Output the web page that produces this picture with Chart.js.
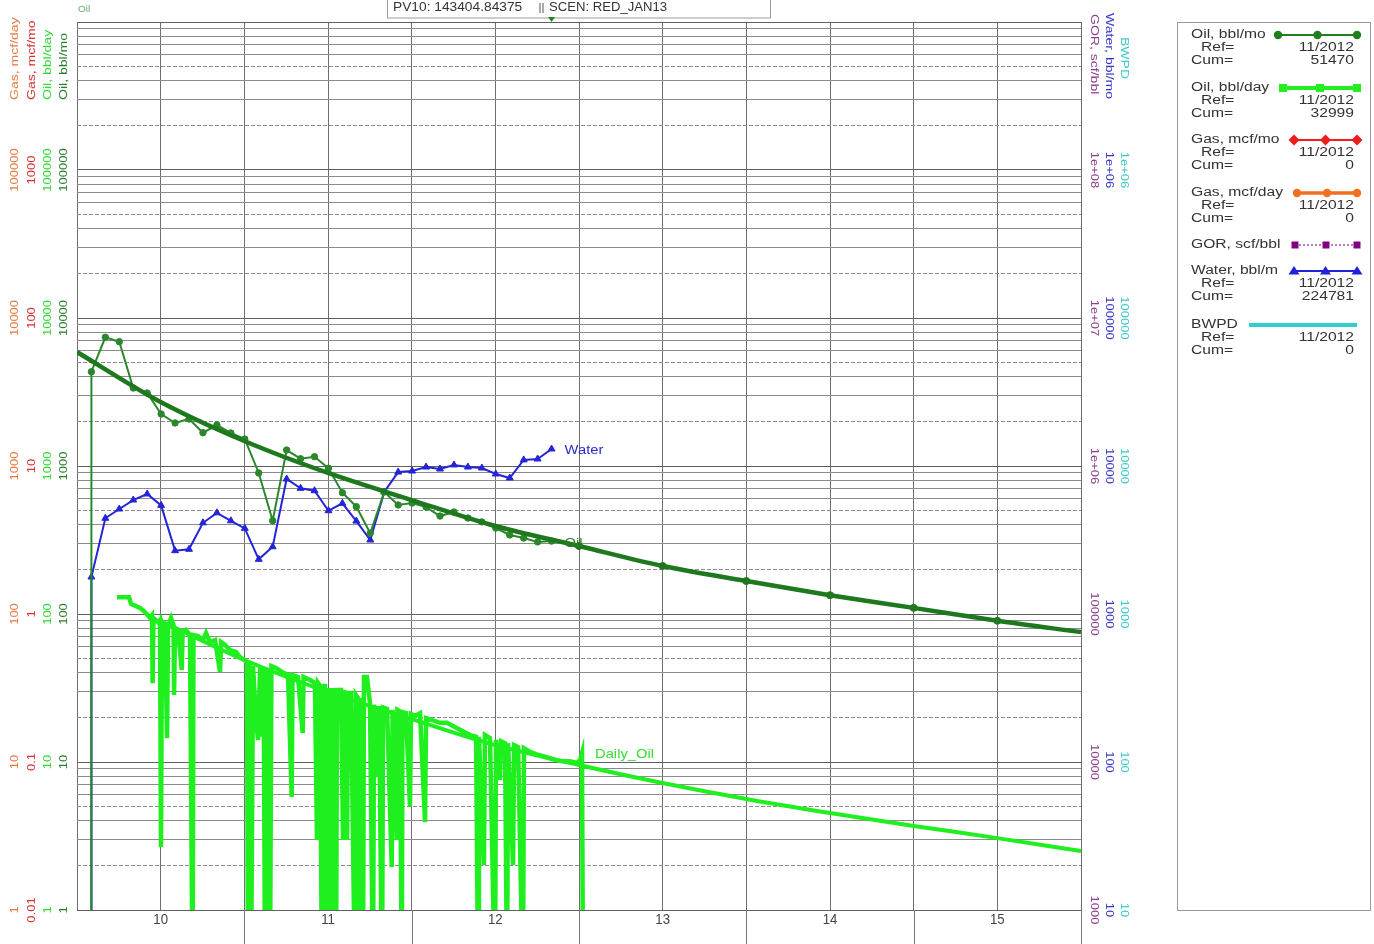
<!DOCTYPE html>
<html><head><meta charset="utf-8">
<script src="https://cdn.jsdelivr.net/npm/chart.js@4/dist/chart.umd.min.js"></script>
<style>html,body{margin:0;padding:0;background:#fff;}canvas{display:block;}</style>
</head><body>
<canvas id="c" width="1374" height="944"></canvas>
<script>
// ---------------- DATA ----------------
const monthlyDates = ['2010-02','2010-03','2010-04','2010-05','2010-06','2010-07','2010-08','2010-09','2010-10','2010-11','2010-12','2011-01','2011-02','2011-03','2011-04','2011-05','2011-06','2011-07','2011-08','2011-09','2011-10','2011-11','2011-12','2012-01','2012-02','2012-03','2012-04','2012-05','2012-06','2012-07','2012-08','2012-09','2012-10','2012-11'];
const monthlyOil = [4336,7410,6918,3365,3113,2245,1953,2078,1679,1892,1671,1521,897,427,1282,1120,1156,965,660,531,352,667,545,562,528,459,489,445,419,381,342,326,307,311];
const monthlyWater = [1778,4436,5120,5888,6471,5420,2679,2737,4132,4827,4266,3790,2342,2846,8166,7066,6810,4985,5594,4246,3162,6668,9097,9245,9839,9542,10165,9839,9690,8830,8298,10995,11150,13030];
const startupDate = '2010-02';
const startupOil = 0;
const startupWater = 0;

const oilFitYears = [2010,2010.5,2011,2011.5,2012,2012.5,2013,2013.5,2014,2014.5,2015,2015.5,2016];
const oilFitMonthly = [5891,2707,1475,897,589,393,288,211,167,134,110,90,75.5];
const dailyFitYears = [2010.5,2011,2011.5,2012,2012.5,2013,2013.5,2014,2014.5,2015,2015.5,2016];
const dailyFitValues = [89.7,48.9,29.7,19.5,13.0,9.55,7.21,5.62,4.52,3.70,3.06,2.50];

const dailyYears = [2010.239,2010.311,2010.323,2010.376,2010.406,2010.436,2010.448,2010.452,2010.457,2010.484,
2010.496,2010.502,2010.508,2010.526,2010.538,2010.544,2010.562,2010.577,2010.580,2010.586,
2010.604,2010.626,2010.631,2010.651,2010.675,2010.691,2010.696,2010.723,2010.753,2010.771,
2010.795,2010.825,2010.855,2010.861,2010.885,2010.914,2010.950,2010.974,2010.998,2011.016,
2011.022,2011.031,2011.040,2011.052,2011.070,2011.082,2011.094,2011.106,2011.115,2011.124,
2011.130,2011.139,2011.144,2011.153,2011.162,2011.189,2011.225,2011.261,2011.283,2011.288,
2011.321,2011.349,2011.354,2011.393,2011.422,2011.434,2011.440,2011.452,2011.464,2011.470,
2011.482,2011.488,2011.494,2011.506,2011.512,2011.530,2011.536,2011.548,2011.554,2011.578,
2011.590,2011.596,2011.614,2011.620,2011.638,2011.661,2011.667,2011.679,2011.691,2011.697,
2011.709,2011.715,2011.733,2011.751,2011.769,2011.775,2011.799,2011.805,2011.823,2011.829,
2011.853,2011.881,2011.886,2011.911,2011.915,2011.930,2011.941,2011.945,2011.966,2011.990,
2011.996,2012.020,2012.050,2012.080,2012.086,2012.122,2012.169,2012.211,2012.247,2012.289,
2012.325,2012.349,2012.385,2012.397,2012.402,2012.432,2012.438,2012.468,2012.498,2012.504,
2012.528,2012.534,2012.558,2012.570,2012.576,2012.606,2012.612,2012.636,2012.665,2012.671,
2012.707,2012.743,2012.779,2012.827,2012.863,2012.899,2012.946,2012.988,2013.006,2013.018,
2013.024];
const dailyOil = [130,130,117,110,103,94,98,34,94,88,
91,2.66,88,80,14.5,83,94,84,28.4,80,
78,41.8,75.5,78,72,0,72,71,66.7,74.4,
64.7,66.7,40.6,64.7,61.8,57.1,55.4,51.2,48.9,47.4,
0,45.9,0,44.5,19.2,14.1,43.2,14.8,43.2,0,
41.8,0,43.2,0,44.5,43.2,40.6,38.7,5.8,38.7,
37.5,15.7,37.5,35.8,34.2,2.97,34.2,32.6,0,32.6,
32.6,0,31.6,0,31.6,0,31.6,0,30.6,30.6,
2.97,30.6,2.97,29.3,29.3,0,28.4,27.1,0,27.1,
0,37.5,37.5,25.0,0,24.4,7.9,23.9,0,23.4,
22.9,1.95,22.5,2.97,22.5,22.0,0,21.7,21.4,5.0,
21.1,20.5,21.4,3.93,19.8,19.2,18.4,18.4,17.5,16.5,
15.7,15.2,14.8,0,14.8,2.01,15.2,14.5,0,14.1,
7.56,13.8,13.4,0,13.4,2.01,13.0,12.6,0,12.4,
11.7,11.3,11.0,10.6,10.3,10.1,10.1,9.85,10.3,11.5,
0];

const xGridYears = [2010,2010.5,2011,2011.5,2012,2012.5,2013,2013.5,2014,2014.5,2015,2015.5,2016];
const xYearBoundaries = [2011,2012,2013,2014,2015,2016];
const xLabelYears = [2010.5,2011.5,2012.5,2013.5,2014.5,2015.5];
const xTickLabels = ['10','11','12','13','14','15'];

const gasDayTickLabels = ['1','10','100','1000','10000','100000'];
const gasMoTickLabels = ['0.01','0.1','1','10','100','1000'];
const oilDayTickLabels = ['1','10','100','1000','10000','100000'];
const oilMoTickLabels = ['1','10','100','1000','10000','100000'];
const gorTickLabels = ['1000','10000','100000','1e+06','1e+07','1e+08'];
const waterTickLabels = ['10','100','1000','10000','100000','1e+06'];
const bwpdTickLabels = ['10','100','1000','10000','100000','1e+06'];

const legendNames = ['Oil, bbl/mo','Oil, bbl/day','Gas, mcf/mo','Gas, mcf/day','GOR, scf/bbl','Water, bbl/m','BWPD'];
const legendRefs = ['11/2012','11/2012','11/2012','11/2012',null,'11/2012','11/2012'];
const legendCums = ['51470','32999','0','0',null,'224781','0'];
const refDate = '2012-11';
const headerPV = 'PV10: 143404.84375';
const headerScen = 'SCEN: RED_JAN13';

// ---------------- HELPERS ----------------
const ZERO = 0.3; // shut-in (zero) values, below the log axis
const dec = s => { const [y, m] = s.split('-').map(Number); return y + (m - 1) / 12 + 1 / 365; };
const zf = v => v > 0 ? v : ZERO;
const FONT = '"Liberation Sans", Arial, Helvetica, sans-serif';

const oilMonthlyData = [{x: dec(startupDate), y: zf(startupOil)}].concat(monthlyDates.map((d, i) => ({x: dec(d), y: zf(monthlyOil[i])})));
const waterData = [{x: dec(startupDate), y: zf(startupWater)}].concat(monthlyDates.map((d, i) => ({x: dec(d), y: zf(monthlyWater[i])})));
const oilFitData = oilFitYears.map((x, i) => ({x, y: oilFitMonthly[i]}));
const dailyFitData = dailyFitYears.map((x, i) => ({x, y: dailyFitValues[i]}));
const dailyData = dailyYears.map((x, i) => ({x, y: zf(dailyOil[i])}));

function logTicks(min, max) {
  const t = [];
  for (let e = Math.round(Math.log10(min)); e < Math.round(Math.log10(max)); e++)
    for (let s = 1; s <= 9; s++) t.push({value: s * Math.pow(10, e)});
  t.push({value: max});
  return t;
}
function signif(v) { const e = Math.floor(Math.log10(v) + 1e-9); return Math.round(v / Math.pow(10, e)); }

function drawText(ctx, s, x, y, o) {
  ctx.save();
  ctx.translate(x, y);
  if (o.rot) ctx.rotate(o.rot);
  ctx.scale(o.sx || 1, 1);
  ctx.font = o.size + 'px ' + FONT;
  ctx.fillStyle = o.color || '#333';
  ctx.textAlign = o.align || 'left';
  ctx.textBaseline = o.base || 'middle';
  ctx.fillText(s, 0, 0);
  ctx.restore();
}
function marker(ctx, type, x, y, color) {
  ctx.save(); ctx.fillStyle = color; ctx.setLineDash([]); ctx.beginPath();
  if (type === 'circle') ctx.arc(x, y, 4.2, 0, Math.PI * 2);
  else if (type === 'square') ctx.rect(x - 4, y - 4, 8, 8);
  else if (type === 'smallsquare') ctx.rect(x - 3.5, y - 3.5, 7, 7);
  else if (type === 'diamond') { ctx.moveTo(x, y - 5.5); ctx.lineTo(x + 5.5, y); ctx.lineTo(x, y + 5.5); ctx.lineTo(x - 5.5, y); ctx.closePath(); }
  else if (type === 'triangle') { ctx.moveTo(x, y - 5); ctx.lineTo(x + 5.5, y + 3.5); ctx.lineTo(x - 5.5, y + 3.5); ctx.closePath(); }
  ctx.fill(); ctx.restore();
}

const leftAxes = [
  {scale: 'gasDay', title: 'Gas, mcf/day', labels: gasDayTickLabels, color: '#e47a40', x: 15},
  {scale: 'gasMo', title: 'Gas, mcf/mo', labels: gasMoTickLabels, color: '#d83030', x: 32},
  {scale: 'oilDay', title: 'Oil, bbl/day', labels: oilDayTickLabels, color: '#33d833', x: 48},
  {scale: 'y', title: 'Oil, bbl/mo', labels: oilMoTickLabels, color: '#2a7e2a', x: 64}
];
const rightAxes = [
  {scale: 'gor', title: 'GOR, scf/bbl', labels: gorTickLabels, color: '#8e3e8e', x: 1094, ty: 14},
  {scale: 'yWater', title: 'Water, bbl/mo', labels: waterTickLabels, color: '#3636cc', x: 1109, ty: 13},
  {scale: 'bwpd', title: 'BWPD', labels: bwpdTickLabels, color: '#40c8c8', x: 1124, ty: 37}
];
const legendStyle = [
  {color: '#1f7f1f', marker: 'circle', w: 2, x0: 1278},
  {color: '#22ee22', marker: 'square', w: 4, x0: 1283},
  {color: '#ee1c1c', marker: 'diamond', w: 2, x0: 1294},
  {color: '#f07020', marker: 'circle', w: 3.5, x0: 1297},
  {color: '#800080', marker: 'smallsquare', w: 1, x0: 1295, dash: [2, 2]},
  {color: '#2020dd', marker: 'triangle', w: 2, x0: 1294},
  {color: '#33cccc', marker: null, w: 4, x0: 1249}
];
const legendRowY = [35, 88, 140, 193, 245, 271, 325];

const overlay = {
  id: 'overlay',
  beforeDraw(chart) {
    const ctx = chart.ctx; ctx.save(); ctx.fillStyle = '#fff'; ctx.fillRect(0, 0, chart.width, chart.height); ctx.restore();
  },
  afterDraw(chart) {
    const ctx = chart.ctx, xs = chart.scales.x, area = chart.chartArea;
    // x axis: long marks at year boundaries + labels
    ctx.save(); ctx.strokeStyle = '#777'; ctx.lineWidth = 1;
    xYearBoundaries.forEach(v => { const px = Math.round(xs.getPixelForValue(v)) + 0.5; ctx.beginPath(); ctx.moveTo(px, area.bottom); ctx.lineTo(px, chart.height); ctx.stroke(); });
    ctx.restore();
    xLabelYears.forEach((v, i) => drawText(ctx, xTickLabels[i], xs.getPixelForValue(v), area.bottom + 10, {size: 15, sx: 0.88, align: 'center', color: '#444'}));
    // axis label columns
    leftAxes.forEach(a => {
      const sc = chart.scales[a.scale];
      a.labels.forEach(l => drawText(ctx, l, a.x, sc.getPixelForValue(Number(l)), {size: 11, sx: 1.18, rot: -Math.PI / 2, align: 'center', color: a.color}));
      drawText(ctx, a.title, a.x, 100, {size: 11.5, sx: 1.22, rot: -Math.PI / 2, align: 'left', color: a.color});
    });
    rightAxes.forEach(a => {
      const sc = chart.scales[a.scale];
      a.labels.forEach(l => drawText(ctx, l, a.x, sc.getPixelForValue(Number(l)), {size: 11, sx: 1.18, rot: Math.PI / 2, align: 'center', color: a.color}));
      drawText(ctx, a.title, a.x, a.ty, {size: 11.5, sx: 1.22, rot: Math.PI / 2, align: 'left', color: a.color});
    });
    // small "Oil" caption
    drawText(ctx, 'Oil', 78, 10, {size: 9, sx: 1.1, color: '#6aaa6a'});
    // header box
    ctx.save(); ctx.fillStyle = '#fff'; ctx.strokeStyle = '#9a9a9a'; ctx.lineWidth = 1;
    ctx.fillRect(387, -2, 383, 20); ctx.strokeRect(387.5, -2, 383, 20); ctx.restore();
    drawText(ctx, headerPV, 393, 8, {size: 12.5, sx: 1.1, color: '#333'});
    ctx.save(); ctx.fillStyle = '#aaa'; ctx.fillRect(539, 3, 2, 10); ctx.fillRect(542, 3, 2, 10); ctx.restore();
    drawText(ctx, headerScen, 549, 8, {size: 12.5, sx: 1.05, color: '#333'});
    // ref date marker
    const rx = xs.getPixelForValue(dec(refDate));
    ctx.save(); ctx.fillStyle = '#1a8a1a'; ctx.beginPath(); ctx.moveTo(rx - 3.5, 17); ctx.lineTo(rx + 3.5, 17); ctx.lineTo(rx, 22); ctx.closePath(); ctx.fill(); ctx.restore();
    // series end labels
    const endLabel = (dsIndex, text, color) => {
      const meta = chart.getDatasetMeta(dsIndex);
      const ds = chart.data.datasets[dsIndex].data;
      let k = ds.length - 1; while (k > 0 && ds[k].y <= ZERO) k--;
      const p = meta.data[k];
      drawText(ctx, text, p.x + 13, p.y + 2, {size: 12.5, sx: 1.18, color});
    };
    endLabel(2, 'Water', '#2a2ad0');
    endLabel(3, 'Oil', '#2a7e2a');
    endLabel(1, 'Daily_Oil', '#33dd33');
    // legend box
    ctx.save(); ctx.strokeStyle = '#9a9a9a'; ctx.lineWidth = 1; ctx.strokeRect(1177.5, 22.5, 193, 888); ctx.restore();
    legendNames.forEach((name, i) => {
      const st = legendStyle[i], y = legendRowY[i];
      drawText(ctx, name, 1191, y, {size: 12.5, sx: 1.25, color: '#333'});
      ctx.save(); ctx.strokeStyle = st.color; ctx.lineWidth = st.w; ctx.setLineDash(st.dash || []);
      ctx.beginPath(); ctx.moveTo(st.x0, y); ctx.lineTo(1357, y); ctx.stroke(); ctx.restore();
      if (st.marker) [st.x0, (st.x0 + 1357) / 2, 1357].forEach(mx => marker(ctx, st.marker, mx, y, st.color));
      if (legendRefs[i] !== null) {
        drawText(ctx, 'Ref=', 1201, y + 13, {size: 12.5, sx: 1.25, color: '#333'});
        drawText(ctx, legendRefs[i], 1354, y + 13, {size: 12.5, sx: 1.25, color: '#333', align: 'right'});
        drawText(ctx, 'Cum=', 1191, y + 26, {size: 12.5, sx: 1.25, color: '#333'});
        drawText(ctx, legendCums[i], 1354, y + 26, {size: 12.5, sx: 1.25, color: '#333', align: 'right'});
      }
    });
  }
};

const hidden = (min, max, pos) => ({type: 'logarithmic', display: false, min, max, position: pos});

new Chart(document.getElementById('c'), {
  type: 'line',
  data: {
    datasets: [
      {label: 'Daily_Oil fit', data: dailyFitData, yAxisID: 'oilDay', borderColor: '#1fee1f', borderWidth: 4, pointRadius: 0, cubicInterpolationMode: 'monotone', order: 6},
      {label: 'Daily_Oil', data: dailyData, yAxisID: 'oilDay', borderColor: '#1fee1f', borderWidth: 4.5, pointRadius: 0, tension: 0, order: 5},
      {label: 'Water', data: waterData, yAxisID: 'yWater', borderColor: '#2424d8', backgroundColor: '#2424d8', borderWidth: 2,
        pointStyle: 'triangle', pointRadius: c => (c.raw && c.raw.y > ZERO) ? 4 : 0, pointBorderWidth: 1, order: 4},
      {label: 'Oil', data: oilMonthlyData, yAxisID: 'y', borderColor: '#2b872b', backgroundColor: '#2b872b', borderWidth: 2,
        pointStyle: 'circle', pointRadius: c => (c.raw && c.raw.y > ZERO) ? 3.2 : 0, pointBorderWidth: 1, order: 3},
      {label: 'Oil fit', data: oilFitData, yAxisID: 'y', borderColor: '#1e781e', backgroundColor: '#1e781e', borderWidth: 4.5,
        cubicInterpolationMode: 'monotone', pointRadius: c => (c.raw && c.raw.x >= 2013 && c.raw.x < 2016) ? 3.5 : 0, pointBorderWidth: 1, order: 2}
    ]
  },
  options: {
    responsive: false, animation: false, events: [],
    layout: {padding: {left: 77, right: 293, top: 22, bottom: 34}},
    plugins: {legend: {display: false}, tooltip: {enabled: false}},
    scales: {
      x: {
        type: 'linear', min: 2010, max: 2016,
        afterBuildTicks: s => { s.ticks = xGridYears.map(v => ({value: v})); },
        ticks: {display: false},
        grid: {color: '#6f6f6f', lineWidth: 1, drawTicks: false},
        border: {display: false}
      },
      y: {
        type: 'logarithmic', min: 1, max: 1e6, position: 'left',
        afterBuildTicks: s => { s.ticks = logTicks(1, 1e6); },
        ticks: {display: false},
        grid: {
          drawTicks: false, lineWidth: 1,
          color: c => (c.tick && signif(c.tick.value) === 1) ? '#606060' : '#8c8c8c'
        },
        border: {display: false, dash: c => (c.tick && (signif(c.tick.value) === 2 || signif(c.tick.value) === 5)) ? [4, 2] : []}
      },
      yWater: hidden(10, 1e7, 'right'),
      oilDay: hidden(1, 1e6, 'left'),
      gasDay: hidden(1, 1e6, 'left'),
      gasMo: hidden(0.01, 1e4, 'left'),
      gor: hidden(1000, 1e9, 'right'),
      bwpd: hidden(10, 1e7, 'right')
    }
  },
  plugins: [overlay]
});
</script>
</body></html>
